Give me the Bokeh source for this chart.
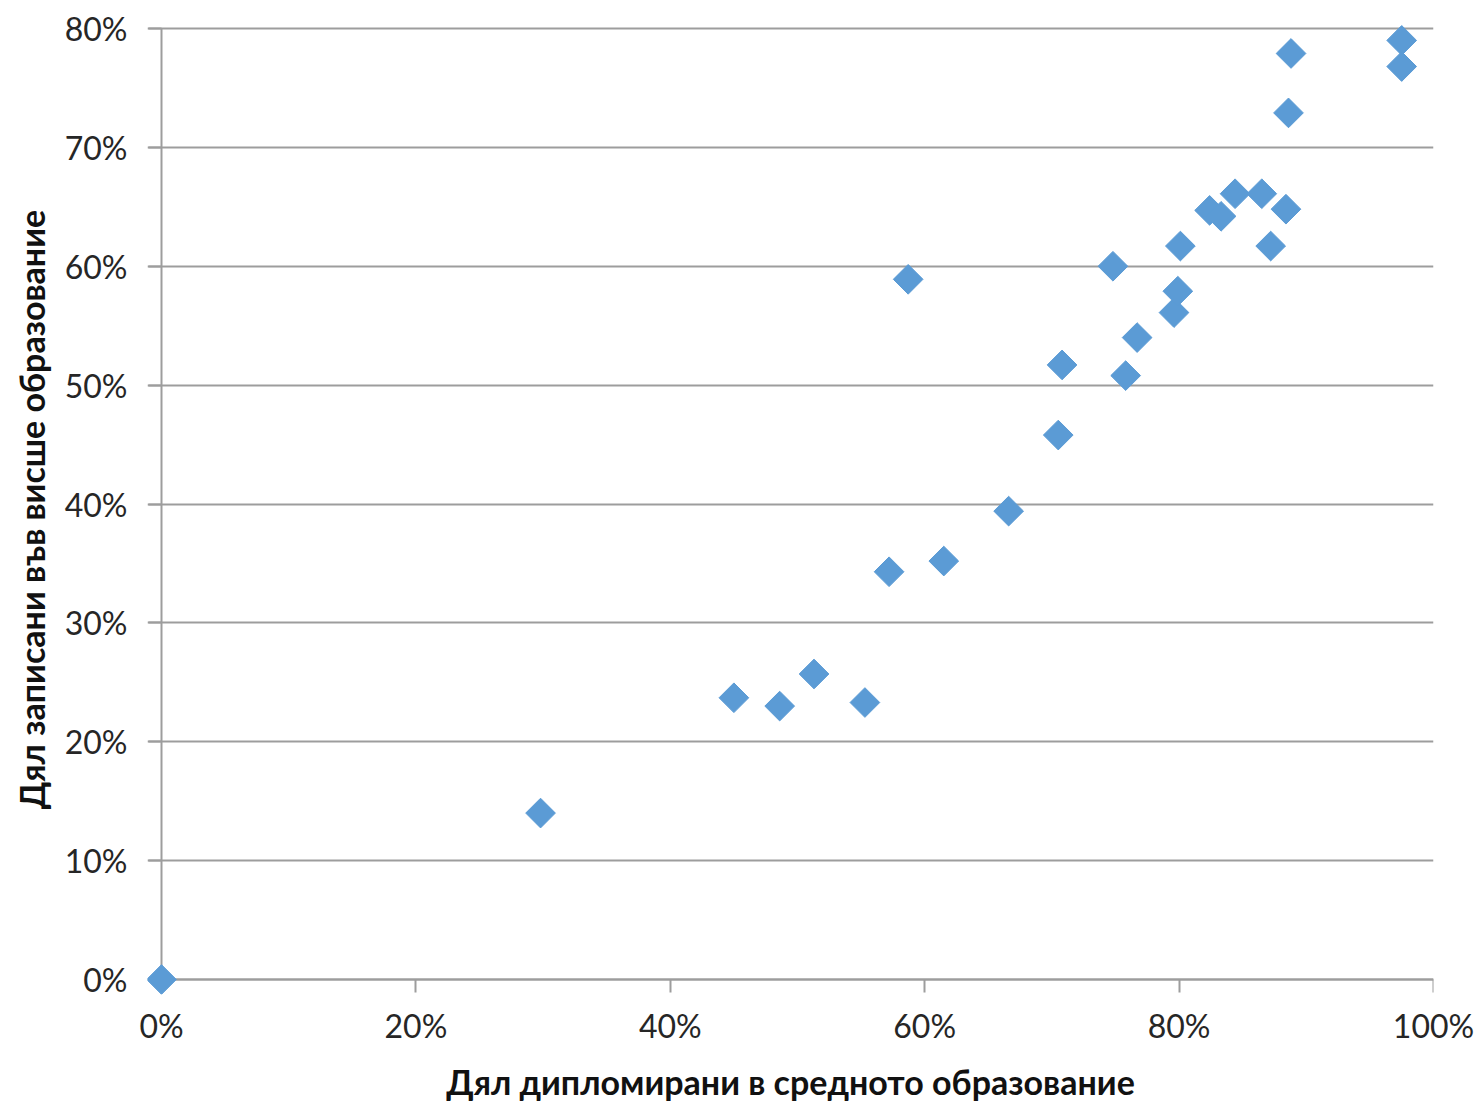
import numpy as np
from bokeh.plotting import figure
from bokeh.models import (NumeralTickFormatter, FixedTicker, Range1d, ColumnDataSource,
                          LinearAxis)
from bokeh.embed import file_html
from bokeh.resources import INLINE

# Share of graduates in secondary education (%)
grad_share = [0, 29.8, 45.0, 48.6, 51.3, 55.3, 57.2, 58.7, 61.5, 66.6, 70.5, 70.8,
              74.8, 75.8, 76.7, 79.6, 79.9, 80.1, 82.4, 83.3, 84.4, 86.5, 87.2,
              88.4, 88.6, 88.8, 97.5, 97.5]
# Share enrolled in higher education (%)
enrol_share = [0, 14.0, 23.7, 23.0, 25.7, 23.3, 34.3, 58.9, 35.2, 39.4, 45.8, 51.7,
               60.0, 50.8, 54.0, 56.1, 57.9, 61.7, 64.7, 64.2, 66.1, 66.1, 61.7,
               64.8, 72.9, 77.9, 79.0, 76.8]
x_ticks = [0, 0.2, 0.4, 0.6, 0.8, 1.0]
y_ticks = [0, 0.1, 0.2, 0.3, 0.4, 0.5, 0.6, 0.7, 0.8]

src = ColumnDataSource(data=dict(x=[v / 100 for v in grad_share],
                                 y=[v / 100 for v in enrol_share]))

FONT = "Lato"
GRID = "#9d9d9d"

# frame geometry (px); small margins so edge markers are not clipped
XPX, YPX = 1272, 951          # pixels for the x span 0..1 and y span 0..0.8
PAD_L, PAD_T, PAD_B = 14, 4, 15
x_range = Range1d(-PAD_L / XPX, 1)
y_range = Range1d(-PAD_B / YPX * 0.8, 0.8 + PAD_T / YPX * 0.8)

p = figure(frame_width=XPX + PAD_L, frame_height=YPX + PAD_T + PAD_B,
           output_backend="svg", toolbar_location=None,
           x_range=x_range, y_range=y_range,
           min_border_left=147, min_border_right=45, min_border_top=24,
           min_border_bottom=90)
p.outline_line_color = None
p.background_fill_color = "white"

p.xgrid.grid_line_color = None
p.ygrid.grid_line_color = GRID
p.ygrid.grid_line_width = 2
p.ygrid.ticker = FixedTicker(ticks=y_ticks)

# --- label axes (at the frame edges): tick labels and titles only ---
p.xaxis.ticker = FixedTicker(ticks=x_ticks)
p.yaxis.ticker = FixedTicker(ticks=y_ticks)
for ax in (p.xaxis[0], p.yaxis[0]):
    ax.formatter = NumeralTickFormatter(format="0%")
    ax.axis_line_color = None
    ax.major_tick_line_color = None
    ax.minor_tick_line_color = None
    ax.major_tick_out = 0
    ax.major_tick_in = 0
    ax.major_label_text_font = FONT
    ax.major_label_text_font_size = "32px"
    ax.major_label_text_color = "#262626"
    ax.axis_label_text_font = FONT
    ax.axis_label_text_font_size = "34px"
    ax.axis_label_text_font_style = "bold"
    ax.axis_label_text_color = "#111111"
p.xaxis.major_label_standoff = 11
p.yaxis.major_label_standoff = 20
p.xaxis.axis_label = "Дял дипломирани в средното образование"
p.yaxis.axis_label = "Дял записани във висше образование"
p.xaxis.axis_label_standoff = 13
p.yaxis.axis_label_standoff = 10

# --- line axes drawn at data zero: axis lines and tick marks (under the markers) ---
def line_axis(ticks, bounds):
    ax = LinearAxis(ticker=FixedTicker(ticks=ticks), bounds=bounds, fixed_location=0,
                    axis_line_color=GRID, axis_line_width=2,
                    major_tick_line_color=GRID, major_tick_line_width=2,
                    major_tick_in=13, major_tick_out=0,
                    minor_tick_line_color=None,
                    major_label_text_font_size="0px", major_label_standoff=0,
                    major_label_text_alpha=0, level="underlay")
    return ax

p.add_layout(line_axis(x_ticks, (0, 1)), "above")
p.add_layout(line_axis(y_ticks, (0, 0.8)), "right")

p.scatter("x", "y", source=src, marker="square", size=21, angle=np.pi / 4,
          fill_color="#5B9BD5", line_color="#5B9BD5", line_width=1)

open("out.html", "w").write(file_html(p, INLINE))
